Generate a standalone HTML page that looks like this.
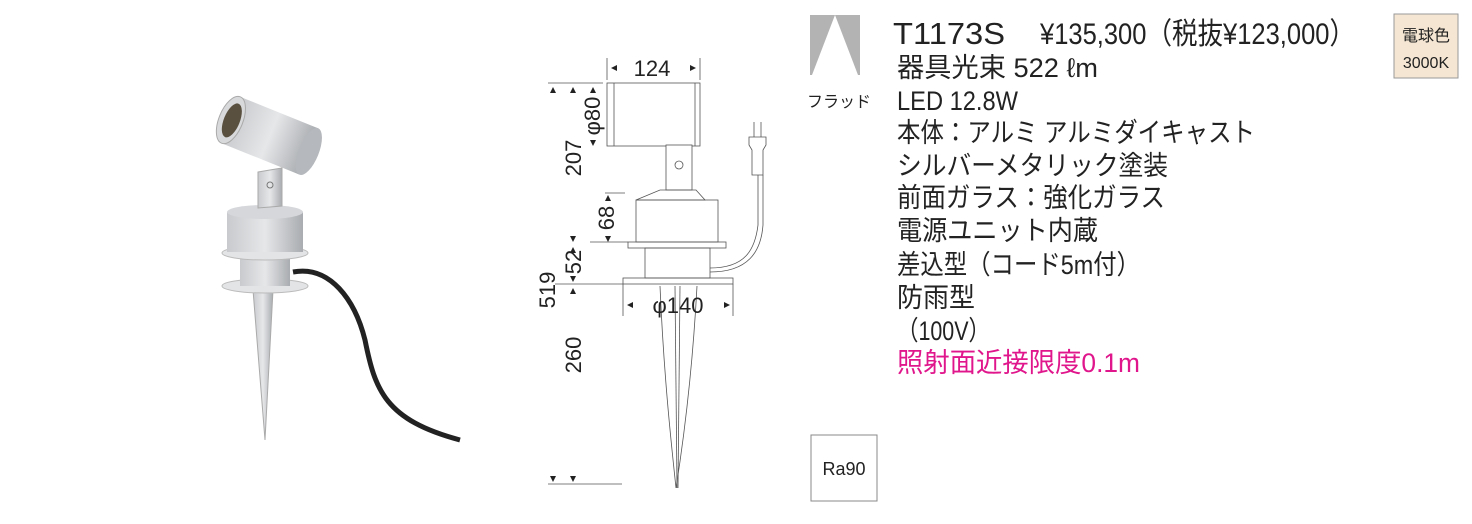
<!DOCTYPE html>
<html><head><meta charset="utf-8"><style>
body{margin:0;background:#fff;width:1472px;height:524px;overflow:hidden}
svg{display:block}
.t{font-family:"Liberation Sans","Noto Sans CJK JP",sans-serif;fill:#222}
</style></head><body>
<svg width="1472" height="524" viewBox="0 0 1472 524" xmlns="http://www.w3.org/2000/svg">
<defs>
<linearGradient id="m" x1="0" x2="1"><stop offset="0" stop-color="#c8cacd"/><stop offset=".5" stop-color="#e6e7e9"/><stop offset="1" stop-color="#a9acb0"/></linearGradient>
</defs>
<!-- photo -->
<path d="M293,272 C330,265 355,300 365,340 C375,390 385,420 460,440" stroke="#222" stroke-width="5" fill="none"/>
<polygon points="253,290 273,290 265,440" fill="url(#m)" stroke="#aaa"/>
<ellipse cx="265" cy="286" rx="43" ry="7" fill="#e3e4e6" stroke="#bbb"/>
<rect x="240" y="258" width="50" height="28" fill="url(#m)"/>
<ellipse cx="265" cy="253" rx="43" ry="7" fill="#e3e4e6" stroke="#bbb"/>
<rect x="227" y="212" width="76" height="40" fill="url(#m)"/>
<ellipse cx="265" cy="212" rx="38" ry="7" fill="#d5d7da"/>
<polygon points="258,172 282,168 282,206 258,208" fill="url(#m)" stroke="#aaa"/>
<circle cx="270" cy="185" r="3" fill="none" stroke="#777"/>
<g transform="rotate(22 268 135)">
<rect x="228" y="110" width="84" height="50" fill="url(#m)"/>
<ellipse cx="312" cy="135" rx="10" ry="25" fill="#b5b8bc"/>
<ellipse cx="228" cy="135" rx="12" ry="25" fill="#d8d9db" stroke="#aaa"/>
<ellipse cx="229" cy="135" rx="8" ry="18" fill="#5a5040"/>
</g>
<!-- drawing -->
<g stroke="#555" stroke-width="0.8" fill="none">
<line x1="607" y1="58" x2="607" y2="80"/><line x1="700" y1="58" x2="700" y2="80"/>
<line x1="548" y1="83" x2="603" y2="83"/>
<rect x="607" y="83" width="93" height="63" fill="#fff"/>
<line x1="614" y1="83" x2="614" y2="146"/><line x1="695" y1="83" x2="695" y2="146"/>
<rect x="666" y="145" width="26" height="45" fill="#fff"/>
<circle cx="679" cy="165" r="4"/>
<path d="M660,190 L696,190 L705,200 L636,200 Z"/>
<rect x="636" y="200" width="82" height="42"/>
<rect x="628" y="242" width="98" height="6"/>
<rect x="645" y="248" width="65" height="30"/>
<path d="M710,268 C745,268 755,250 758,225 L758,175" />
<path d="M710,272 C748,272 761,252 763,225 L763,175" />
<path d="M752,175 L752,150 L749,145 L749,137 L766,137 L766,145 L763,150 L763,175 Z"/>
<line x1="754" y1="137" x2="754" y2="122"/><line x1="761" y1="137" x2="761" y2="122"/>
<rect x="623" y="278" width="110" height="6"/>
<line x1="590" y1="242" x2="628" y2="242"/><line x1="555" y1="284" x2="623" y2="284"/>
<line x1="605" y1="193" x2="625" y2="193"/>
<line x1="623" y1="284" x2="623" y2="316"/><line x1="733" y1="284" x2="733" y2="316"/>
<path d="M660,286 C664,380 672,450 676,488 C682,450 692,380 697,286"/>
<line x1="675" y1="286" x2="677" y2="488"/><line x1="680" y1="286" x2="678" y2="488"/>
<line x1="548" y1="484" x2="622" y2="484"/>
</g>
<g fill="#222">
<polygon points="611,68 617,65 617,71"/><polygon points="696,68 690,65 690,71"/>
<polygon points="550,93 553,87 556,93"/><polygon points="570,93 573,87 576,93"/><polygon points="590,93 593,87 596,93"/>
<polygon points="590,140 593,146 596,140"/>
<polygon points="605,201 608,195 611,201"/><polygon points="605,236 608,242 611,236"/>
<polygon points="570,236 573,242 576,236"/><polygon points="570,253 573,247 576,253"/>
<polygon points="570,276 573,282 576,276"/><polygon points="570,294 573,288 576,294"/>
<polygon points="627,305 633,302 633,308"/><polygon points="730,305 724,302 724,308"/>
<polygon points="550,476 553,482 556,476"/><polygon points="570,476 573,482 576,476"/>
</g>
<g class="t" font-size="22">
<text x="652" y="76" text-anchor="middle">124</text>
<text transform="translate(600,116) rotate(-90)" text-anchor="middle">φ80</text>
<text transform="translate(581,158) rotate(-90)" text-anchor="middle">207</text>
<text transform="translate(614,218) rotate(-90)" text-anchor="middle">68</text>
<text transform="translate(581,262) rotate(-90)" text-anchor="middle">52</text>
<text transform="translate(555,290) rotate(-90)" text-anchor="middle">519</text>
<text transform="translate(581,355) rotate(-90)" text-anchor="middle">260</text>
<text x="678" y="313" text-anchor="middle">φ140</text>
</g>
<!-- spec -->
<rect x="810" y="15" width="50" height="60" fill="#b3b3b3"/>
<polygon points="835,15 812,75 858,75" fill="#fff"/>
<text class="t" x="807" y="107" font-size="16">フラッド</text>
<rect x="811" y="435" width="66" height="66" fill="#fff" stroke="#888"/>
<text class="t" x="844" y="475" font-size="18" text-anchor="middle">Ra90</text>
<rect x="1394" y="14" width="64" height="64" fill="#f4e6d2" stroke="#999"/>
<text class="t" x="1426" y="41" font-size="16" text-anchor="middle">電球色</text>
<text class="t" x="1426" y="68" font-size="16" text-anchor="middle">3000K</text>
<g class="t" font-size="27">
<text x="893" y="44" font-size="31" textLength="112" lengthAdjust="spacingAndGlyphs">T1173S</text>
<text x="1040" y="44" font-size="30" textLength="315" lengthAdjust="spacingAndGlyphs">¥135,300（税抜¥123,000）</text>
<text x="897" y="77" textLength="201" lengthAdjust="spacingAndGlyphs">器具光束 522 ℓm</text>
<text x="897" y="110" textLength="121" lengthAdjust="spacingAndGlyphs">LED 12.8W</text>
<text x="897" y="142" textLength="358" lengthAdjust="spacingAndGlyphs">本体：アルミ アルミダイキャスト</text>
<text x="897" y="175" textLength="271" lengthAdjust="spacingAndGlyphs">シルバーメタリック塗装</text>
<text x="897" y="207" textLength="268" lengthAdjust="spacingAndGlyphs">前面ガラス：強化ガラス</text>
<text x="897" y="240" textLength="201" lengthAdjust="spacingAndGlyphs">電源ユニット内蔵</text>
<text x="897" y="274" textLength="243" lengthAdjust="spacingAndGlyphs">差込型（コード5m付）</text>
<text x="897" y="307" textLength="78" lengthAdjust="spacingAndGlyphs">防雨型</text>
<text x="897" y="340" textLength="93" lengthAdjust="spacingAndGlyphs">（100V）</text>
<text x="897" y="372" fill="#e0178c" textLength="243" lengthAdjust="spacingAndGlyphs">照射面近接限度0.1m</text>
</g>
</svg>
</body></html>
